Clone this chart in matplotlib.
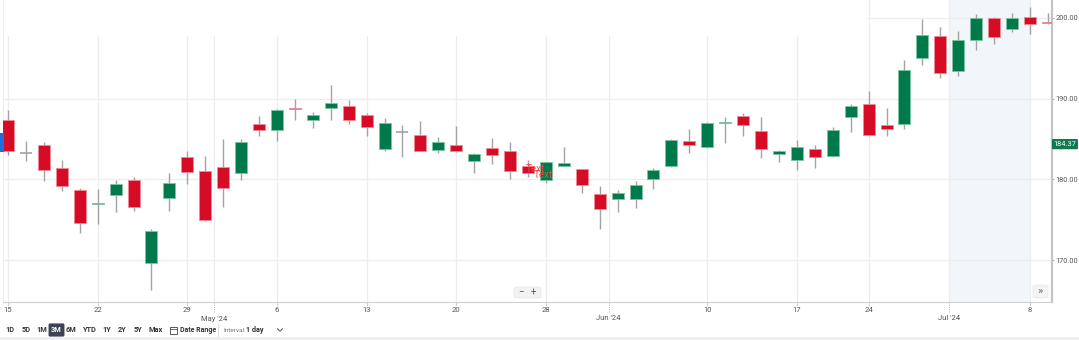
import matplotlib
matplotlib.use('Agg')
import matplotlib.pyplot as plt
from matplotlib.patches import Rectangle, FancyBboxPatch
from matplotlib.lines import Line2D
import matplotlib.transforms as mtransforms
import pandas as pd
import numpy as np

plt.rcParams['font.family'] = ['Roboto', 'DejaVu Sans']

# trading days, 15 Apr - 9 Jul 2024 (market holidays dropped)
holidays = ['2024-05-27', '2024-06-19', '2024-07-04']
dates = pd.bdate_range('2024-04-15', '2024-07-09', freq='C', holidays=holidays)

opens = [187.41, 183.33, 184.23, 181.44, 178.72, 176.90, 178.02, 179.91, 169.67, 177.73,
         182.72, 181.06, 181.56, 180.78, 186.91, 186.17, 188.89, 187.41, 188.80, 189.14,
         187.94, 183.74, 185.93, 185.56, 183.70, 184.27, 182.26, 183.83, 183.58, 181.64,
         179.88, 181.64, 181.23, 178.22, 177.60, 177.57, 180.07, 181.68, 184.81, 183.99,
         186.95, 187.90, 186.00, 183.09, 182.43, 183.73, 182.93, 187.78, 189.32, 186.78,
         186.87, 195.03, 197.76, 193.45, 197.30, 199.95, 198.67, 200.12, 199.45]
highs = [188.64, 184.77, 184.60, 182.35, 178.93, 178.84, 179.95, 180.25, 173.83, 180.78,
         183.49, 182.96, 185.06, 185.01, 187.81, 188.70, 189.91, 188.35, 191.64, 189.79,
         188.27, 187.65, 186.70, 187.28, 185.22, 186.67, 183.25, 185.14, 184.69, 182.38,
         182.15, 183.99, 181.30, 179.14, 178.64, 179.79, 181.44, 184.98, 186.21, 187.11,
         187.69, 188.27, 187.69, 183.62, 184.94, 184.22, 186.50, 189.32, 191.00, 188.82,
         194.82, 199.91, 198.92, 198.34, 200.53, 200.07, 200.62, 201.32, 200.62]
lows = [183.00, 182.26, 179.83, 178.56, 173.41, 174.52, 176.00, 176.12, 166.30, 176.12,
        179.38, 174.89, 176.54, 179.88, 185.38, 184.77, 187.32, 186.37, 187.41, 186.86,
        185.35, 183.49, 182.75, 183.49, 183.33, 183.37, 180.74, 181.93, 180.04, 180.33,
        179.51, 181.60, 178.35, 173.90, 175.93, 176.42, 178.77, 181.48, 183.33, 183.83,
        184.52, 185.38, 182.67, 182.17, 181.15, 181.44, 182.81, 185.88, 185.38, 185.42,
        186.29, 194.23, 192.58, 192.83, 195.98, 196.84, 198.26, 198.05, 199.29]
closes = [183.58, 183.33, 181.19, 179.14, 174.60, 177.10, 179.46, 176.54, 173.66, 179.58,
          180.86, 174.94, 178.93, 184.69, 186.12, 188.64, 188.68, 187.94, 189.42, 187.41,
          186.49, 187.04, 185.93, 183.58, 184.64, 183.46, 183.12, 183.04, 181.02, 180.74,
          182.10, 181.98, 179.30, 176.37, 178.27, 179.30, 181.19, 184.94, 184.27, 186.99,
          187.16, 186.79, 183.74, 183.58, 183.99, 182.77, 186.09, 189.07, 185.50, 186.29,
          193.61, 197.89, 193.24, 197.22, 200.04, 197.59, 200.04, 199.29, 199.33]

last_price = 184.37
price_ticks = [170, 180, 190, 200]
range_buttons = ['1D', '5D', '1M', '3M', '6M', 'YTD', '1Y', '2Y', '5Y', 'Max']
range_x = [10, 26, 42, 56.5, 71, 90, 107, 122, 138, 155.5]

UP, DOWN = '#017a4b', '#d60b25'
UP_EDGE, DOWN_EDGE = '#7fc2a3', '#f08a97'
GRID = '#ededed'

W, H = 1079, 340
fig = plt.figure(figsize=(W / 100, H / 100), dpi=100)
ax = fig.add_axes([3 / W, 1 - 302 / H, (1052 - 3) / W, 302 / H])

x = np.arange(len(dates))
o, h, l, c = map(np.array, (opens, highs, lows, closes))

ax.set_xlim(-0.28, 58.23)
ax.set_ylim(164.81, 202.23)

# current week shading
ax.axvspan(52.5, 57, color='#f2f5f9', zorder=0.2, lw=0)

# horizontal grid
for p in price_ticks:
    ax.axhline(p, color=GRID, lw=0.9, zorder=0.5)

# day ticks on the first session of each week, month labels at month breaks
day_ticks, month_ticks = [], []
for i in range(len(dates)):
    new_month = i > 0 and dates[i].month != dates[i - 1].month
    new_week = i == 0 or dates[i].weekday() < dates[i - 1].weekday()
    if new_month:
        month_ticks.append(i - 0.5)
    elif new_week:
        day_ticks.append(i)

for t in day_ticks + month_ticks:
    ax.axvline(t, color=GRID, lw=0.9, zorder=0.5)

trans = mtransforms.blended_transform_factory(ax.transData, ax.transAxes)
for t in day_ticks:
    ax.text(t, -8 / 302, str(dates[t].day), transform=trans, ha='center', va='center',
            fontsize=5.5, color='#555555', clip_on=False)
    ax.plot([t, t], [0, -3 / 302], transform=trans, color='#cccccc', lw=0.8, clip_on=False)
for t in month_ticks:
    d = dates[int(t + 0.5)]
    ax.text(t, -16.5 / 302, d.strftime("%b '%y"), transform=trans, ha='center', va='center',
            fontsize=5.5, color='#555555', clip_on=False)
    ax.plot([t, t], [0, -11 / 302], transform=trans, color='#bbbbbb', lw=0.8,
            ls=(0, (1, 1)), clip_on=False)

# header strip over the top-left of the plot
ax.add_patch(Rectangle((0, 1 - 36 / 302), (867 - 3) / 1049, 36 / 302, transform=ax.transAxes,
                       facecolor='white', edgecolor='none', zorder=1))

# candles
up = c > o
doji = np.isclose(o, c)
ax.vlines(x, l, h, color='#a3a3a3', lw=1, zorder=2)
bw = 0.67
ax.bar(x[up], (c - o)[up], bottom=o[up], width=bw, color=UP, edgecolor=UP_EDGE, lw=0.6, zorder=3)
dn = ~up & ~doji
ax.bar(x[dn], (o - c)[dn], bottom=c[dn], width=bw, color=DOWN, edgecolor=DOWN_EDGE, lw=0.6, zorder=3)
ax.hlines(o[doji], x[doji] - bw / 2, x[doji] + bw / 2, color='#a3a3a3', lw=1.2, zorder=3)

# stray annotation labels
ax.text(28.9, 181.3, 'Text', color='#ee4b4b', fontsize=7, va='center', zorder=4)
ax.text(29.3, 180.5, 'Text', color='#ee4b4b', fontsize=7, va='center', zorder=4)

# axes styling
ax.spines['top'].set_visible(False)
ax.spines['left'].set_color('#eeeeee')
ax.spines['bottom'].set_color('#cfcfcf')
ax.spines['right'].set_color('#c4c4c4')
ax.spines['right'].set_linewidth(1.6)
ax.set_xticks([])
ax.yaxis.tick_right()
ax.set_yticks(price_ticks)
ax.set_yticklabels([f'{p:.2f}' for p in price_ticks])
ax.tick_params(axis='y', length=1.5, width=0.6, color='#999999', pad=1,
               labelsize=5.3, labelcolor='#555555')

# last price tag
ax.text(1.0015, last_price, f'{last_price:.2f}',
        transform=mtransforms.blended_transform_factory(ax.transAxes, ax.transData),
        ha='left', va='center', fontsize=5.3, color='white', clip_on=False, zorder=5,
        bbox=dict(boxstyle='round,pad=0.22,rounding_size=0.15', fc='#0b7a4d', ec='none'))

# partial tag at the left edge
fig.patches.append(Rectangle((0, 1 - 152 / H), 4 / W, 19 / H, transform=fig.transFigure,
                             facecolor='#1e6fdc', edgecolor='none'))


def px(xp, yp):
    return xp / W, 1 - yp / H


# zoom buttons and scroll button
fig.patches.append(FancyBboxPatch(px(514, 298), 27 / W, 11 / H, transform=fig.transFigure,
                                  boxstyle='round,pad=0,rounding_size=0.004',
                                  fc='#f2f2f2', ec='#e6e6e6', lw=0.5))
fig.text(*px(521, 292.5), '−', fontsize=7, color='#555555', ha='center', va='center')
fig.text(*px(533.5, 292.5), '+', fontsize=7, color='#555555', ha='center', va='center')
fig.patches.append(FancyBboxPatch(px(1033, 298), 15 / W, 13 / H, transform=fig.transFigure,
                                  boxstyle='round,pad=0,rounding_size=0.004',
                                  fc='#f4f4f4', ec='#e6e6e6', lw=0.5))
fig.text(*px(1040.5, 291), '»', fontsize=8, color='#666666', ha='center', va='center')

# range selector toolbar
ty = 330
for lab, bx in zip(range_buttons, range_x):
    if lab == '3M':
        fig.text(*px(bx, ty), lab, fontsize=5.3, color='white', ha='center', va='center',
                 weight='bold',
                 bbox=dict(boxstyle='round,pad=0.35,rounding_size=0.2', fc='#3a4455', ec='none'))
    else:
        fig.text(*px(bx, ty), lab, fontsize=5.3, color='#333333', ha='center', va='center',
                 weight='bold')

# calendar icon
fig.patches.append(Rectangle(px(170, 333.5), 7 / W, 7 / H, transform=fig.transFigure,
                             fill=False, ec='#555555', lw=0.7))
fig.lines.append(Line2D([170 / W, 177 / W], [1 - 328.5 / H] * 2, transform=fig.transFigure,
                        color='#555555', lw=0.6))
fig.text(*px(180, ty), 'Date Range', fontsize=5, color='#333333', ha='left', va='center',
         weight='bold')
fig.lines.append(Line2D([218 / W] * 2, [1 - 324 / H, 1 - 336 / H], transform=fig.transFigure,
                        color='#dddddd', lw=0.7))
fig.text(*px(223, ty), 'Interval:', fontsize=4.6, color='#777777', ha='left', va='center')
fig.text(*px(246.5, ty), '1 day', fontsize=5.2, color='#333333', ha='left', va='center',
         weight='bold')
fig.lines.append(Line2D([277.5 / W, 280 / W, 282.5 / W], [1 - 328.8 / H, 1 - 331.2 / H, 1 - 328.8 / H],
                        transform=fig.transFigure, color='#555555', lw=0.7))

# bottom border
fig.patches.append(Rectangle((0, 0), 1, 3 / H, transform=fig.transFigure,
                             facecolor='#efefef', edgecolor='none'))

plt.savefig('out.png', dpi=100)
